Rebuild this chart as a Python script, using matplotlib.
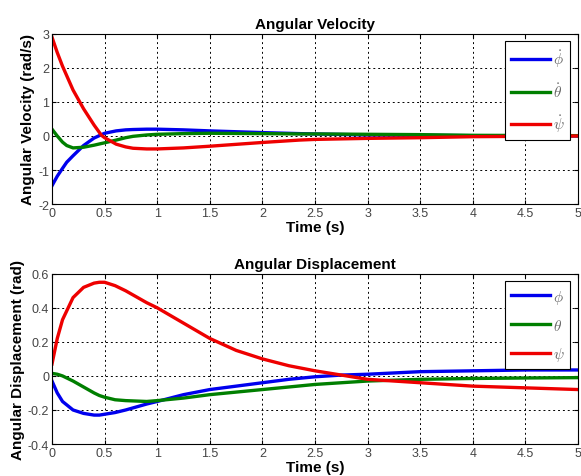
import numpy as np
import matplotlib
matplotlib.use('Agg')
import matplotlib.pyplot as plt

plt.rcParams['font.family'] = ['Liberation Sans', 'DejaVu Sans']
plt.rcParams['mathtext.fontset'] = 'cm'
plt.rcParams['axes.unicode_minus'] = False

# Angular velocity readings (rad/s)
t_vel = [0, 0.05, 0.1, 0.14, 0.2, 0.3, 0.4, 0.47, 0.5, 0.61, 0.7, 0.77, 0.9, 1.0,
         1.25, 1.5, 2.0, 2.35, 2.5, 3.0, 3.5, 4.0, 4.5, 5.0]
phi_dot = [-1.46, -1.18, -0.95, -0.77, -0.58, -0.28, -0.06, 0.04, 0.08, 0.15, 0.18, 0.19,
           0.2, 0.2, 0.18, 0.15, 0.1, 0.07, 0.06, 0.03, 0.02, 0.01, 0.0, 0.0]
theta_dot = [0.2, 0.0, -0.18, -0.28, -0.35, -0.33, -0.27, -0.22, -0.2, -0.12, -0.05, -0.01,
             0.03, 0.05, 0.07, 0.08, 0.07, 0.06, 0.06, 0.05, 0.04, 0.02, 0.015, 0.01]
psi_dot = [2.9, 2.45, 2.05, 1.77, 1.35, 0.8, 0.32, 0.02, -0.05, -0.24, -0.32, -0.36,
           -0.38, -0.38, -0.35, -0.3, -0.19, -0.12, -0.1, -0.07, -0.05, -0.02, -0.01, 0.0]

# Angular displacement readings (rad)
t_disp = [0, 0.05, 0.1, 0.2, 0.3, 0.4, 0.45, 0.5, 0.6, 0.7, 0.9, 1.0, 1.25, 1.5,
          1.75, 2.0, 2.25, 2.5, 2.75, 3.0, 3.5, 4.0, 4.5, 5.0]
phi = [-0.03, -0.1, -0.15, -0.2, -0.22, -0.23, -0.23, -0.225, -0.215, -0.2, -0.165, -0.15,
       -0.11, -0.08, -0.06, -0.04, -0.02, -0.005, 0.005, 0.01, 0.025, 0.03, 0.035, 0.035]
theta = [0.015, 0.01, 0.0, -0.03, -0.065, -0.1, -0.115, -0.125, -0.14, -0.145, -0.15, -0.145,
         -0.13, -0.11, -0.095, -0.08, -0.065, -0.05, -0.04, -0.03, -0.02, -0.015, -0.012, -0.01]
psi = [0.07, 0.22, 0.33, 0.46, 0.52, 0.545, 0.55, 0.55, 0.53, 0.5, 0.43, 0.4,
       0.31, 0.22, 0.15, 0.1, 0.06, 0.03, 0.005, -0.02, -0.04, -0.06, -0.07, -0.08]

fig = plt.figure(figsize=(5.81, 4.77), dpi=100, facecolor='w')
ax1 = fig.add_axes([0.0895, 0.570, 0.9055, 0.357])
ax2 = fig.add_axes([0.0895, 0.067, 0.9055, 0.357])

lw = 2.4
cols = ['#0000ee', '#007f00', '#ee0000']

for ax, t, ys, labs in [
        (ax1, t_vel, [phi_dot, theta_dot, psi_dot],
         [r'$\dot{\phi}$', r'$\dot{\theta}$', r'$\dot{\psi}$']),
        (ax2, t_disp, [phi, theta, psi],
         [r'$\phi$', r'$\theta$', r'$\psi$'])]:
    for y, c, lab in zip(ys, cols, labs):
        ax.plot(t, y, '-', color=c, lw=lw, label=lab)
    ax.set_xlim(0, 5)
    ax.set_xticks(np.arange(0, 5.01, 0.5))
    ax.set_xticklabels(['0', '0.5', '1', '1.5', '2', '2.5', '3', '3.5', '4', '4.5', '5'])
    ax.grid(True, color='k', linestyle=(0, (2, 3)), linewidth=0.7)
    ax.tick_params(direction='in', top=True, right=True, labelsize=9,
                   labelcolor='#444444', length=3, pad=2)
    ax.set_xlabel('Time (s)', fontweight='bold', fontsize=11, labelpad=1)
    leg = ax.legend(loc='upper right', fontsize=11, handlelength=2.6,
                    labelspacing=0.8, fancybox=False, framealpha=1,
                    edgecolor='k', borderpad=0.4, handletextpad=0.15,
                    borderaxespad=0.5)
    leg.get_frame().set_linewidth(0.8)
    for txt in leg.get_texts():
        txt.set_color('#666666')

ax1.set_ylim(-2, 3)
ax1.set_yticks([-2, -1, 0, 1, 2, 3])
ax1.set_title('Angular Velocity', fontweight='bold', fontsize=11, pad=4)
ax1.set_ylabel('Angular Velocity (rad/s)', fontweight='bold', fontsize=11, labelpad=2)

ax2.set_ylim(-0.4, 0.6)
ax2.set_yticks([-0.4, -0.2, 0, 0.2, 0.4, 0.6])
ax2.set_yticklabels(['-0.4', '-0.2', '0', '0.2', '0.4', '0.6'])
ax2.set_title('Angular Displacement', fontweight='bold', fontsize=11, pad=4)
ax2.set_ylabel('Angular Displacement (rad)', fontweight='bold', fontsize=11, labelpad=2)

fig.savefig('out.png', dpi=100)
